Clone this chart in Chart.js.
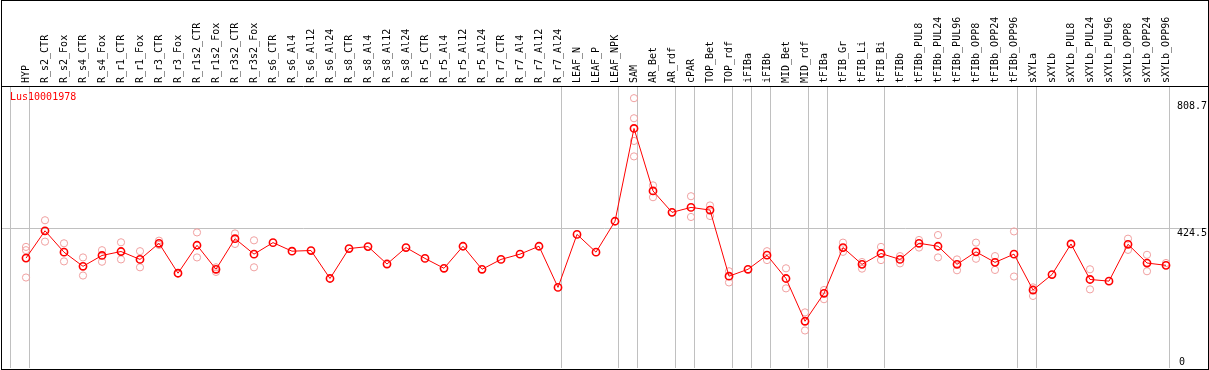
<!DOCTYPE html>
<html><head><meta charset="utf-8">
<script src="https://cdn.jsdelivr.net/npm/chart.js@4.4.0/dist/chart.umd.min.js"></script>
<style>
html,body{margin:0;padding:0;background:#fff;}
#wrap{position:relative;width:1209px;height:370px;}
#title{position:absolute;left:10px;top:91px;font:10px "DejaVu Sans Mono",monospace;color:#ff0000;line-height:12px;white-space:nowrap;}
</style></head>
<body><div id="wrap"><canvas id="c" width="1209" height="370"></canvas><div id="title">Lus10001978</div></div>
<script>
const categories = ["HYP","R_s2_CTR","R_s2_Fox","R_s4_CTR","R_s4_Fox","R_r1_CTR","R_r1_Fox","R_r3_CTR","R_r3_Fox",
  "R_r1s2_CTR","R_r1s2_Fox","R_r3s2_CTR","R_r3s2_Fox","R_s6_CTR","R_s6_Al4","R_s6_Al12","R_s6_Al24",
  "R_s8_CTR","R_s8_Al4","R_s8_Al12","R_s8_Al24","R_r5_CTR","R_r5_Al4","R_r5_Al12","R_r5_Al24",
  "R_r7_CTR","R_r7_Al4","R_r7_Al12","R_r7_Al24","LEAF_N","LEAF_P","LEAF_NPK","SAM","AR_Bet","AR_rdf",
  "cPAR","TOP_Bet","TOP_rdf","iFIBa","iFIBb","MID_Bet","MID_rdf","tFIBa","tFIB_Gr","tFIB_Li","tFIB_Bi",
  "tFIBb","tFIBb_PUL8","tFIBb_PUL24","tFIBb_PUL96","tFIBb_OPP8","tFIBb_OPP24","tFIBb_OPP96",
  "sXYLa","sXYLb","sXYLb_PUL8","sXYLb_PUL24","sXYLb_PUL96","sXYLb_OPP8","sXYLb_OPP24","sXYLb_OPP96"];

const means = [334,417,352,309,342,354,330,379,288,373,300,393,346,381,355,357,272,363,369,316,366,
  333,303,370,300,330,346,370,245,406,352,446,728,538,473,488,480,279,300,343,272,142,227,366,315,348,
  330,379,370,315,353,321,346,237,284,377,269,264,376,319,312];

const replicates = [[368,358,275],[449,384],[379,324],[336,281],[358,323],[382,330],[355,306],[387,374],[288],
  [412,336],[306,292],[409,377],[388,306],[],[],[],[],[],[],[],[],[],[],[],[],[],[],[],[],[],[],[],
  [820,759,690,643],[555,519],[473],[522,459],[494,462],[294,260],[],[355,328],[303,242],[169,114],
  [237,209],[381,353],[322,302],[368,328],[340,318],[389,366],[404,336],[330,297],[381,332],[340,298],
  [415,278],[245,219],[],[],[300,239],[],[393,359],[344,294],[319]];

const yTicks = [424.5, 808.7];
const yZeroTicks = [0];
const groupEndsAfter = [-1,0,28,31,32,34,35,37,38,39,41,42,45,52,53,60];

const meanPoints = means.map((v,i)=>({x:i,y:v}));
const repPoints = [];
replicates.forEach((r,i)=>r.forEach(v=>repPoints.push({x:i,y:v})));

const FONT = {family:'"DejaVu Sans Mono", monospace', size:10};
const XMIN = -24/19, XMAX = 60 + 41/19, YMAX = 857;

function noPad(s){ s.paddingLeft = 0; s.paddingRight = 0; s.paddingTop = 0; s.paddingBottom = 0; }

const framePlugin = {
  id:'frame',
  afterDraw(chart){
    const c = chart.ctx;
    c.save();
    c.strokeStyle = '#000'; c.lineWidth = 1;
    c.strokeRect(1.5, 0.5, 1207, 369);
    c.restore();
  }
};

new Chart(document.getElementById('c'), {
  type:'line',
  data:{datasets:[
    {data:meanPoints, borderColor:'#ff0000', borderWidth:1, tension:0,
     pointRadius:3.6, pointBorderWidth:1.6, pointBorderColor:'#ff0000', pointBackgroundColor:'rgba(0,0,0,0)',
     xAxisID:'x', yAxisID:'y', order:0},
    {data:repPoints, showLine:false,
     pointRadius:3.6, pointBorderWidth:1, pointBorderColor:'#f0a0a0', pointBackgroundColor:'rgba(0,0,0,0)',
     xAxisID:'x', yAxisID:'y', order:1}
  ]},
  options:{
    responsive:false, animation:false, devicePixelRatio:1,
    layout:{autoPadding:false, padding:{left:2,right:2,top:0,bottom:2}},
    plugins:{legend:{display:false}, tooltip:{enabled:false}},
    scales:{
      x:{type:'linear', position:'top', min:XMIN, max:XMAX,
        afterBuildTicks:s=>{s.ticks = categories.map((_,i)=>({value:i}));},
        afterFit:s=>{s.height = 86; noPad(s);},
        ticks:{autoSkip:false, minRotation:90, maxRotation:90, padding:3, labelOffset:12, color:'#000', font:FONT,
          callback:v=>categories[v]},
        grid:{display:false, drawTicks:false},
        border:{display:true, color:'#000', width:1}},
      xg:{type:'linear', position:'bottom', min:XMIN, max:XMAX,
        afterBuildTicks:s=>{s.ticks = groupEndsAfter.map(i=>({value:i+0.21}));},
        afterFit:s=>{s.height = 0; noPad(s);},
        ticks:{display:false},
        grid:{color:'#c0c0c0', lineWidth:1, drawTicks:false},
        border:{display:false}},
      y:{type:'linear', position:'right', min:0, max:YMAX,
        afterBuildTicks:s=>{s.ticks = yTicks.map(v=>({value:v}));},
        afterFit:s=>{s.width = 0; noPad(s);},
        ticks:{mirror:true, crossAlign:'far', padding:0, labelOffset:5, color:'#000', font:FONT,
          callback:v=>String(v)},
        grid:{drawTicks:false, color:ctx=>(ctx.tick && ctx.tick.value===424.5)?'#c0c0c0':'rgba(0,0,0,0)'},
        border:{display:false}},
      y0:{type:'linear', position:'right', min:0, max:YMAX,
        afterBuildTicks:s=>{s.ticks = yZeroTicks.map(v=>({value:v}));},
        afterFit:s=>{s.width = 0; noPad(s);},
        ticks:{mirror:true, crossAlign:'far', padding:-22, labelOffset:-6, color:'#000', font:FONT,
          callback:v=>String(v)},
        grid:{display:false, drawTicks:false},
        border:{display:false}}
    }
  },
  plugins:[framePlugin]
});
</script>
</body></html>
